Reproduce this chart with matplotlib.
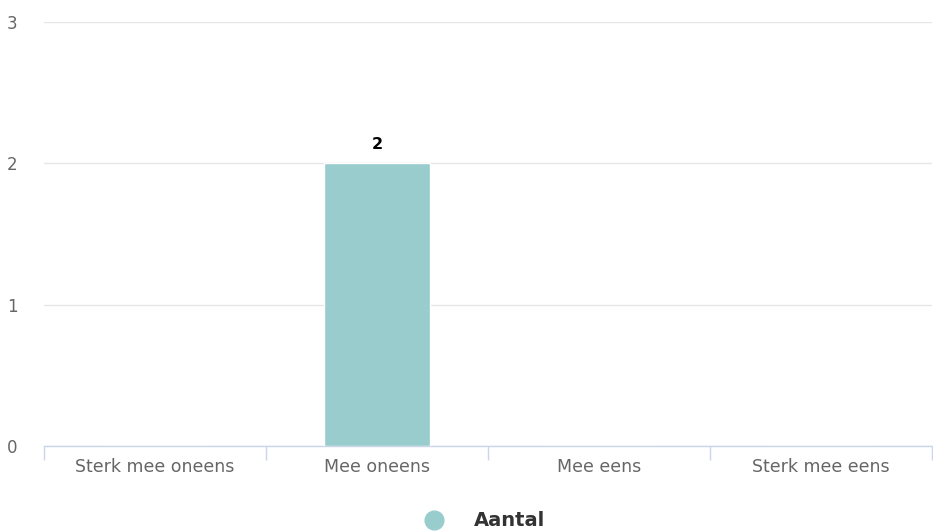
import matplotlib
matplotlib.use("Agg")
import matplotlib.pyplot as plt
from matplotlib.lines import Line2D
import numpy as np

categories = ["Sterk mee oneens", "Mee oneens", "Mee eens", "Sterk mee eens"]
values = [0, 2, 0, 0]
series_name = "Aantal"
yticks = [0, 1, 2, 3]

W, H = 933, 532
fig = plt.figure(figsize=(W/100, H/100), dpi=100)
left, right, top, bottom = 44, 932, 22, 446
ax = fig.add_axes([left/W, 1-bottom/H, (right-left)/W, (bottom-top)/H])

x = np.arange(len(categories))
ax.bar(x, values, width=0.48, color="#99CCCC", edgecolor="white", linewidth=1, zorder=3)
for xi, v in zip(x, values):
    if v > 0:
        ax.annotate(str(v), (xi, v), xytext=(0, 8), textcoords="offset points",
                    ha="center", va="bottom", fontsize=11.5,
                    fontweight="bold", color="black")

ax.set_xlim(-0.5, len(categories) - 0.5)
ax.set_ylim(0, 3)
ax.set_yticks(yticks)
ax.set_yticklabels([str(t) for t in yticks])
ax.yaxis.grid(True, color="#e6e6e6", linewidth=1, zorder=0)
ax.tick_params(axis="y", length=0, labelsize=12, labelcolor="#666666", pad=19)
for lab in ax.get_yticklabels():
    lab.set_verticalalignment("center_baseline")

ax.set_xticks(x)
ax.set_xticklabels(categories)
ax.tick_params(axis="x", length=0, labelsize=12.5, labelcolor="#666666", pad=9)
ax.set_xticks(np.arange(len(categories) + 1) - 0.5, minor=True)
ax.tick_params(axis="x", which="minor", length=10, color="#ccd6eb", width=1)

for s in ["top", "right", "left"]:
    ax.spines[s].set_visible(False)
ax.spines["bottom"].set_color("#ccd6eb")
ax.spines["bottom"].set_linewidth(1)
ax.set_axisbelow(True)

# legend
fig.add_artist(Line2D([434/W], [1-520/H], marker="o", markersize=13.5, color="#99CCCC",
                      linestyle="none", transform=fig.transFigure))
fig.text(474/W, 1-520/H, series_name, color="#333333", fontsize=14, fontweight="bold",
         ha="left", va="center")

fig.savefig("out.png", dpi=100, facecolor="white")
